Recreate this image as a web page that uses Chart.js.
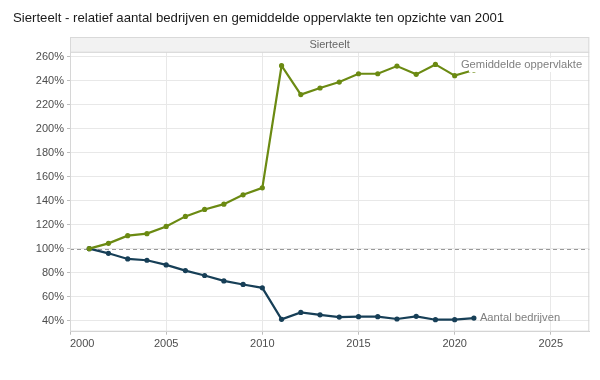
<!DOCTYPE html>
<html>
<head>
<meta charset="utf-8">
<script src="https://cdn.jsdelivr.net/npm/chart.js@4/dist/chart.umd.min.js"></script>
<style>
html,body{margin:0;padding:0;background:#fff;}
#wrap{width:600px;height:380px;position:relative;}
</style>
</head>
<body>
<div id="wrap"><canvas id="c" width="600" height="380"></canvas></div>
<script>
const titleText = "Sierteelt - relatief aantal bedrijven en gemiddelde oppervlakte ten opzichte van 2001";
const panelLabel = "Sierteelt";
const years = [2001,2002,2003,2004,2005,2006,2007,2008,2009,2010,2011,2012,2013,2014,2015,2016,2017,2018,2019,2020,2021];
const aantalBedrijven = [100,96.1,91.4,90.3,86.4,81.7,77.6,73.1,70.1,67.3,41.0,46.8,44.8,42.9,43.2,43.2,41.3,43.5,40.7,40.7,42.1];
const gemOppervlakte = [100,104.4,110.8,112.5,118.5,126.9,132.7,137.1,144.9,150.7,252.6,228.5,234.0,239.0,245.9,245.9,252.3,245.4,253.7,244.3,249.0];
const seriesNames = ["Aantal bedrijven","Gemiddelde oppervlakte"];
const xTickValues = [2000,2005,2010,2015,2020,2025];
const yTickValues = [40,60,80,100,120,140,160,180,200,220,240,260];
const referenceValue = 100;

const FONT = "'Liberation Sans', Arial, sans-serif";
const BLUE = "#173f57";
const GREEN = "#6b8a12";
const X_MIN = 2000, X_MAX = 2027, Y_MIN = 30.7, Y_MAX = 264.3;

const decor = {
  id: 'decor',
  beforeDatasetsDraw(chart) {
    const {ctx, chartArea: a, scales: {x, y}} = chart;
    ctx.save();
    const yy = Math.round(y.getPixelForValue(referenceValue)) + 0.5;
    ctx.strokeStyle = '#999999';
    ctx.lineWidth = 1;
    ctx.setLineDash([4, 3]);
    ctx.beginPath(); ctx.moveTo(a.left, yy); ctx.lineTo(a.right, yy); ctx.stroke();
    ctx.restore();
  },
  afterDraw(chart) {
    const {ctx, chartArea: a, scales: {x, y}} = chart;
    ctx.save();
    ctx.strokeStyle = '#d6d6d6';
    ctx.lineWidth = 1;
    ctx.strokeRect(a.left + 0.5, a.top + 0.5, a.right - a.left - 1, a.bottom - a.top - 1);
    ctx.fillStyle = '#f2f2f2';
    ctx.fillRect(a.left, 37, a.right - a.left, a.top - 37);
    ctx.strokeStyle = '#d9d9d9';
    ctx.strokeRect(a.left + 0.5, 37.5, a.right - a.left - 1, a.top - 37);
    ctx.fillStyle = '#666666';
    ctx.font = '11px ' + FONT;
    ctx.textAlign = 'center'; ctx.textBaseline = 'middle';
    ctx.fillText(panelLabel, (a.left + a.right) / 2, (37 + a.top) / 2 + 0.5);
    ctx.fillStyle = '#1a1a1a';
    ctx.font = '13.2px ' + FONT;
    ctx.textAlign = 'left';
    ctx.fillText(titleText, 13, 18);
    const n = years.length - 1;
    ctx.font = '11.2px ' + FONT;
    const gx = x.getPixelForValue(years[n]) - 13;
    const gy = y.getPixelForValue(gemOppervlakte[n]) - 5;
    const gw = ctx.measureText(seriesNames[1]).width;
    ctx.fillStyle = '#ffffff';
    ctx.fillRect(gx + 8, gy - 7, gw - 6, 14);
    ctx.fillStyle = '#7f7f7f';
    ctx.fillText(seriesNames[1], gx, gy);
    const bx = x.getPixelForValue(years[n]) + 6;
    const by = y.getPixelForValue(aantalBedrijven[n]) - 0.5;
    ctx.fillText(seriesNames[0], bx, by);
    ctx.restore();
  }
};

new Chart(document.getElementById('c'), {
  type: 'line',
  data: {
    datasets: [
      {
        label: seriesNames[1],
        data: years.map((yr, i) => ({x: yr, y: gemOppervlakte[i]})),
        borderColor: GREEN, backgroundColor: GREEN,
        borderWidth: 2.2, pointRadius: 2.6, pointBorderWidth: 0, pointBackgroundColor: GREEN,
        tension: 0
      },
      {
        label: seriesNames[0],
        data: years.map((yr, i) => ({x: yr, y: aantalBedrijven[i]})),
        borderColor: BLUE, backgroundColor: BLUE,
        borderWidth: 2.2, pointRadius: 2.6, pointBorderWidth: 0, pointBackgroundColor: BLUE,
        tension: 0
      }
    ]
  },
  options: {
    responsive: false,
    animation: false,
    devicePixelRatio: 1,
    layout: {padding: {left: 0, right: 10.7, top: 51.7, bottom: 0}},
    plugins: {legend: {display: false}, title: {display: false}, tooltip: {enabled: false}},
    scales: {
      x: {
        type: 'linear', min: X_MIN, max: X_MAX,
        afterBuildTicks(s) { s.ticks = xTickValues.map(v => ({value: v})).concat([{value: X_MAX}]); },
        afterFit(s) { s.height = 48.3; },
        ticks: {
          align: 'inner', padding: 3, color: '#4d4d4d',
          font: {family: FONT, size: 11},
          callback: (v) => xTickValues.includes(v) ? String(v) : ''
        },
        grid: {
          color: (c) => (c.tick && c.tick.value === X_MAX) ? 'rgba(0,0,0,0)' : '#e8e8e8',
          tickColor: (c) => (c.tick && c.tick.value === X_MAX) ? 'rgba(0,0,0,0)' : '#bdbdbd',
          tickLength: 3, lineWidth: 1
        },
        border: {display: true, color: '#cfcfcf'}
      },
      y: {
        type: 'linear', min: Y_MIN, max: Y_MAX,
        afterBuildTicks(s) { s.ticks = yTickValues.map(v => ({value: v})); },
        afterFit(s) { s.width = 70; },
        ticks: {
          padding: 3, color: '#4d4d4d',
          font: {family: FONT, size: 11},
          callback: (v) => v + '%'
        },
        grid: {color: '#e8e8e8', tickColor: '#bdbdbd', tickLength: 3, lineWidth: 1},
        border: {display: true, color: '#cfcfcf'}
      }
    }
  },
  plugins: [decor]
});
</script>
</body>
</html>
